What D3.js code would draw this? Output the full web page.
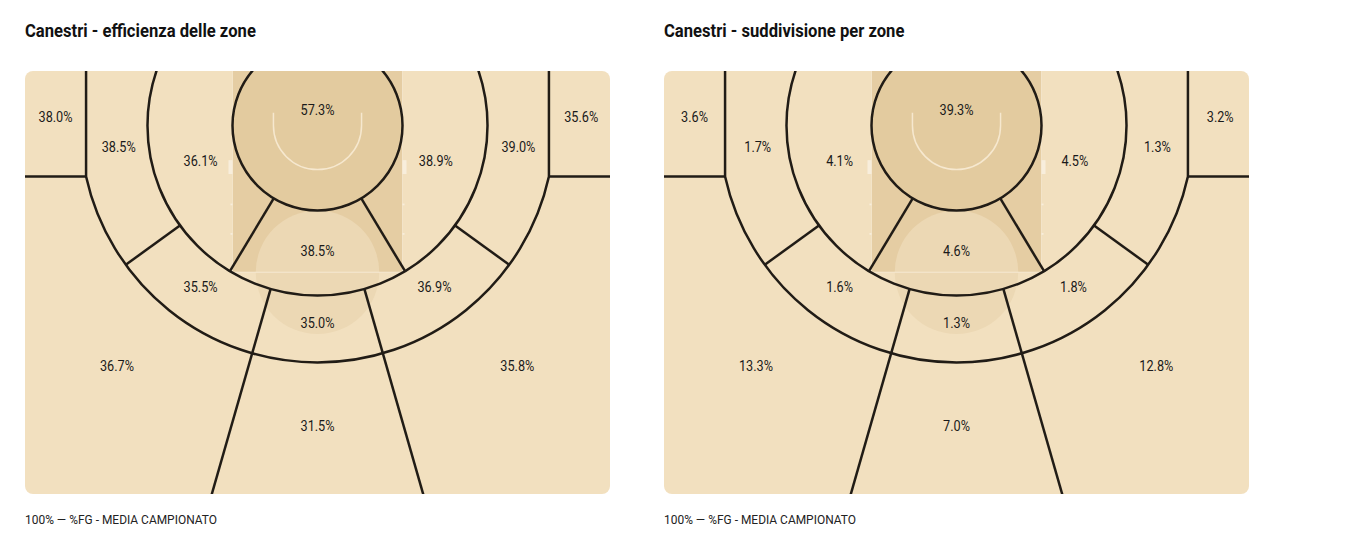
<!DOCTYPE html>
<html>
<head>
<meta charset="utf-8">
<script src="https://cdn.jsdelivr.net/npm/d3@7"></script>
<style>
  html, body { margin: 0; padding: 0; background: #ffffff; }
  svg { display: block; }
  .title { font-family: Roboto, "Liberation Sans", sans-serif; font-weight: bold; font-size: 18px; fill: #111; }
  .lab { font-family: Roboto, "Liberation Sans", sans-serif; font-size: 15px; fill: #1a1a1a; }
  .foot { font-family: Roboto, "Liberation Sans", sans-serif; font-size: 13.5px; fill: #222; }
</style>
</head>
<body>
<svg id="chart" width="1353" height="546"></svg>
<script>
// ---------------- DATA ----------------
const chartTitles = ["Canestri - efficienza delle zone", "Canestri - suddivisione per zone"];
const footerText = "100% \u2014 %FG - MEDIA CAMPIONATO";
const zoneNames = [
  "areaRistretta", "pitturatoSx", "pitturato", "pitturatoDx",
  "mediaAltaSx", "mediaSx", "mediaCentro", "mediaDx", "mediaAltaDx",
  "angoloSx", "alaSx", "centro3", "alaDx", "angoloDx"
];
const efficiency = [57.3, 36.1, 38.5, 38.9, 38.5, 35.5, 35.0, 36.9, 39.0, 38.0, 36.7, 31.5, 35.8, 35.6];
const distribution = [39.3, 4.1, 4.6, 4.5, 1.7, 1.6, 1.3, 1.8, 1.3, 3.6, 13.3, 7.0, 12.8, 3.2];

// ---------------- GEOMETRY (metres, origin = basket centre) ----------------
const COURT_W = 16.86, COURT_H = 12.19;
const BASKET_Y = 1.57;
const R1 = 2.45, R2 = 4.9, R3 = 6.83, CORNER_X = 6.67;
const LANE_W = 4.9, LANE_D = 5.8, FT_R = 1.78, RA_R = 1.27;
const ANG_IN = 31, ANG_MID = 54, ANG_OUT = 16;
const labelPos = {
  areaRistretta: [0, -0.45], pitturatoSx: [-3.37, 1.02], pitturato: [0, 3.62], pitturatoDx: [3.41, 1.02],
  mediaAltaSx: [-5.73, 0.62], mediaSx: [-3.37, 4.65], mediaCentro: [0, 5.69], mediaDx: [3.37, 4.65], mediaAltaDx: [5.79, 0.62],
  angoloSx: [-7.55, -0.25], alaSx: [-5.78, 6.93], centro3: [0, 8.66], alaDx: [5.76, 6.93], angoloDx: [7.6, -0.25]
};

const svg = d3.select("#chart");
const panelX = [25, 664];
const courtTop = 71, courtPxW = 585, courtPxH = 423;

// horizontal condensing to mimic a narrow typeface
function condensed(sel, x, y, factor) {
  sel.attr("x", 0).attr("y", 0).attr("transform", `translate(${x},${y}) scale(${factor},1)`);
}
function measure(cls, txt) {
  const t = svg.append("text").attr("class", cls).text(txt);
  const w = t.node().getComputedTextLength();
  t.remove();
  return w;
}
const titleFactor = 231 / measure("title", chartTitles[0]);
const footFactor = 192 / measure("foot", footerText);
const labFactor = 34 / measure("lab", "57.3%");

function drawPanel(idx, values) {
  const x0 = panelX[idx];
  const g = svg.append("g");
  const sx = d3.scaleLinear().domain([-COURT_W / 2, COURT_W / 2]).range([x0, x0 + courtPxW]);
  const sy = d3.scaleLinear().domain([-BASKET_Y, COURT_H - BASKET_Y]).range([courtTop, courtTop + courtPxH]);
  const k = (sx(1) - sx(0));
  const cx = sx(0), cy = sy(0);

  g.append("text").attr("class", "title").text(chartTitles[idx]).call(condensed, x0, 37, titleFactor);

  const clipId = "clip" + idx;
  g.append("clipPath").attr("id", clipId)
    .append("rect").attr("x", x0).attr("y", courtTop).attr("width", courtPxW).attr("height", courtPxH).attr("rx", 8).attr("ry", 8);

  const c = g.append("g").attr("clip-path", `url(#${clipId})`);
  c.append("rect").attr("x", x0).attr("y", courtTop).attr("width", courtPxW).attr("height", courtPxH).attr("fill", "#f2e0bf");

  // paint
  c.append("rect").attr("x", sx(-LANE_W / 2)).attr("y", courtTop)
    .attr("width", sx(LANE_W / 2) - sx(-LANE_W / 2)).attr("height", sy(LANE_D - BASKET_Y) - courtTop)
    .attr("fill", "#e5cda3");
  // free throw circle
  c.append("circle").attr("cx", cx).attr("cy", sy(LANE_D - BASKET_Y)).attr("r", FT_R * k)
    .attr("fill", "#ecd8b4");
  // free throw line
  c.append("line").attr("x1", sx(-LANE_W / 2)).attr("x2", sx(LANE_W / 2))
    .attr("y1", sy(LANE_D - BASKET_Y)).attr("y2", sy(LANE_D - BASKET_Y))
    .attr("stroke", "#f6e9d2").attr("stroke-width", 1.2);
  // lane side lines + marks
  [-1, 1].forEach(s => {
    c.append("line").attr("x1", sx(s * LANE_W / 2)).attr("x2", sx(s * LANE_W / 2))
      .attr("y1", courtTop).attr("y2", sy(LANE_D - BASKET_Y))
      .attr("stroke", "#f3e4c9").attr("stroke-width", 1);
    [[1.0, 0.4, 4], [2.25, 0.05, 2], [3.1, 0.05, 2]].forEach(m => {
      c.append("rect").attr("x", sx(s * LANE_W / 2) - (s < 0 ? m[2] : 0)).attr("y", sy(m[0]))
        .attr("width", m[2]).attr("height", Math.max(1.2, m[1] * k)).attr("fill", "#f8eedc");
    });
  });

  // restricted circle zone fill (darker)
  c.append("circle").attr("cx", cx).attr("cy", cy).attr("r", R1 * k).attr("fill", "#e3cb9f");
  // restricted arc (light)
  const raPath = d3.path();
  raPath.moveTo(sx(-RA_R), sy(-0.37));
  raPath.lineTo(sx(-RA_R), cy);
  raPath.arc(cx, cy, RA_R * k, Math.PI, 0, true);
  raPath.lineTo(sx(RA_R), sy(-0.37));
  c.append("path").attr("d", raPath.toString()).attr("fill", "none").attr("stroke", "#f6e8cf").attr("stroke-width", 1.5);

  // ---- zone boundaries ----
  const stroke = "#211c16", sw = 2.5;
  const lines = c.append("g").attr("fill", "none").attr("stroke", stroke).attr("stroke-width", sw);
  lines.append("circle").attr("cx", cx).attr("cy", cy).attr("r", R1 * k);
  lines.append("circle").attr("cx", cx).attr("cy", cy).attr("r", R2 * k);
  const cornerY = Math.sqrt(R3 * R3 - CORNER_X * CORNER_X);
  const tp = d3.path();
  tp.moveTo(sx(-CORNER_X), courtTop - 5);
  tp.lineTo(sx(-CORNER_X), sy(cornerY));
  const a0 = Math.atan2(cornerY, -CORNER_X), a1 = Math.atan2(cornerY, CORNER_X);
  tp.arc(cx, cy, R3 * k, a0, a1, true);
  tp.lineTo(sx(CORNER_X), courtTop - 5);
  lines.append("path").attr("d", tp.toString());
  [-1, 1].forEach(s => {
    lines.append("line").attr("x1", sx(s * CORNER_X)).attr("x2", sx(s * COURT_W))
      .attr("y1", sy(cornerY)).attr("y2", sy(cornerY));
  });
  function radial(angDeg, rA, rB) {
    const a = angDeg * Math.PI / 180;
    lines.append("line")
      .attr("x1", sx(Math.sin(a) * rA)).attr("y1", sy(Math.cos(a) * rA))
      .attr("x2", sx(Math.sin(a) * rB)).attr("y2", sy(Math.cos(a) * rB));
  }
  [-1, 1].forEach(s => {
    radial(s * ANG_IN, R1, R2);
    radial(s * ANG_MID, R2, R3);
    radial(s * ANG_OUT, R2, 20);
  });

  // labels
  g.append("g").selectAll("text").data(zoneNames).join("text")
    .attr("class", "lab")
    .attr("text-anchor", "middle")
    .attr("dominant-baseline", "central")
    .text((d, i) => d3.format(".1f")(values[i]) + "%")
    .each(function (d) {
      d3.select(this).call(condensed, sx(labelPos[d][0]), sy(labelPos[d][1]), labFactor);
    });

  g.append("text").attr("class", "foot").text(footerText).call(condensed, x0, 524, footFactor);
}

drawPanel(0, efficiency);
drawPanel(1, distribution);
</script>
</body>
</html>
